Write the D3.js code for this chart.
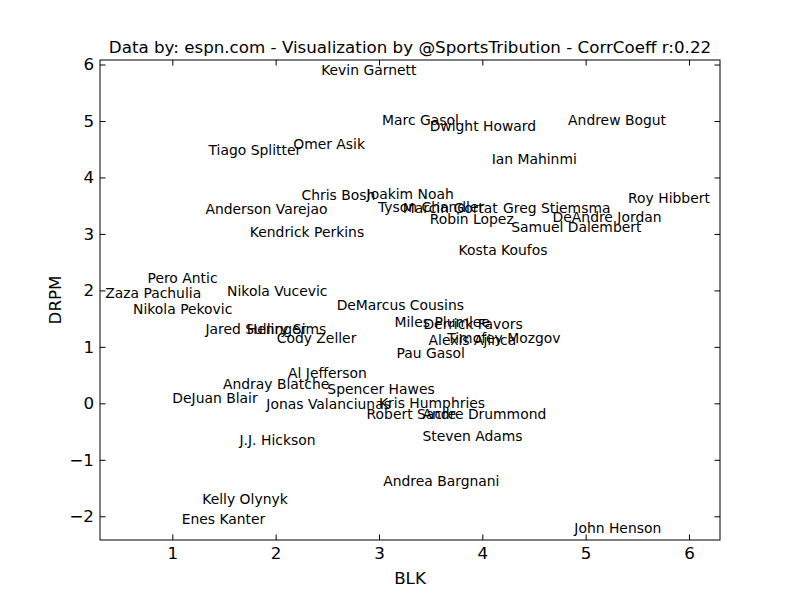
<!DOCTYPE html>
<html>
<head>
<meta charset="utf-8">
<script src="https://cdn.jsdelivr.net/npm/d3@7"></script>
<style>
  body { margin: 0; background: #fff; }
  text { font-family: "DejaVu Sans", sans-serif; }
</style>
</head>
<body>
<div id="plot"></div>
<script>
// Player names with their blocks (BLK) and defensive real plus-minus (DRPM)
var players = ["Kevin Garnett", "Marc Gasol", "Dwight Howard", "Andrew Bogut", "Ian Mahinmi",
  "Omer Asik", "Tiago Splitter", "Chris Bosh", "Joakim Noah", "Anderson Varejao",
  "Tyson Chandler", "Marcin Gortat", "Greg Stiemsma", "Robin Lopez", "DeAndre Jordan",
  "Samuel Dalembert", "Roy Hibbert", "Kendrick Perkins", "Kosta Koufos", "Pero Antic",
  "Zaza Pachulia", "Nikola Vucevic", "Nikola Pekovic", "DeMarcus Cousins", "Jared Sullinger",
  "Henry Sims", "Cody Zeller", "Miles Plumlee", "Derrick Favors", "Timofey Mozgov",
  "Alexis Ajinca", "Pau Gasol", "Al Jefferson", "Andray Blatche", "Spencer Hawes",
  "DeJuan Blair", "Jonas Valanciunas", "Kris Humphries", "Robert Sacre", "Andre Drummond",
  "Steven Adams", "J.J. Hickson", "Andrea Bargnani", "Kelly Olynyk", "Enes Kanter",
  "John Henson"];
var blk = [2.44, 3.03, 3.49, 4.83, 4.09,
  2.17, 1.35, 2.25, 2.88, 1.32,
  2.99, 3.23, 4.20, 3.49, 4.68,
  4.28, 5.41, 1.75, 3.77, 0.76,
  0.35, 1.53, 0.62, 2.59, 1.32,
  1.72, 2.01, 3.15, 3.43, 3.66,
  3.48, 3.17, 2.12, 1.49, 2.50,
  1.00, 1.91, 3.00, 2.88, 3.42,
  3.42, 1.65, 3.04, 1.29, 1.09,
  4.89];
var drpm = [5.81, 4.93, 4.82, 4.93, 4.24,
  4.50, 4.40, 3.60, 3.62, 3.35,
  3.39, 3.37, 3.37, 3.18, 3.21,
  3.03, 3.55, 2.95, 2.63, 2.13,
  1.87, 1.90, 1.58, 1.65, 1.23,
  1.23, 1.07, 1.35, 1.32, 1.07,
  1.03, 0.80, 0.45, 0.25, 0.17,
  0.01, -0.10, -0.08, -0.28, -0.28,
  -0.67, -0.74, -1.46, -1.78, -2.14,
  -2.30];
var xTicks = [1, 2, 3, 4, 5, 6];
var yTicks = [-2, -1, 0, 1, 2, 3, 4, 5, 6];
var title = "Data by: espn.com - Visualization by @SportsTribution - CorrCoeff r:0.22";

var data = players.map((p, i) => ({name: p, blk: blk[i], drpm: drpm[i]}));

// Same frame as a default matplotlib figure
var margin = {top: 60, right: 80, bottom: 60, left: 100},
    width = 800 - margin.left - margin.right,
    height = 600 - margin.top - margin.bottom;

var svg = d3.select("#plot")
  .append("svg")
    .attr("width", 800)
    .attr("height", 600)
  .append("g")
    .attr("transform", `translate(${margin.left},${margin.top})`);

var x = d3.scaleLinear().domain([0.3, 6.3]).range([0, width]);
var y = d3.scaleLinear().domain([-2.42, 6.08]).range([height, 0]);

var tickLen = 5.5;
function styleAxis(g, showLabels) {
  g.select(".domain").remove();
  g.selectAll(".tick line").attr("stroke", "#000");
  g.selectAll(".tick text")
    .attr("fill", "#000")
    .style("font-size", "16.7px")
    .style("font-family", "DejaVu Sans");
  if (!showLabels) g.selectAll(".tick text").remove();
}

svg.append("g")
  .attr("transform", `translate(0,${height})`)
  .call(d3.axisBottom(x).tickValues(xTicks).tickSize(-tickLen).tickPadding(7).tickFormat(d3.format("d")))
  .call(g => styleAxis(g, true));
svg.append("g")
  .call(d3.axisTop(x).tickValues(xTicks).tickSize(-tickLen))
  .call(g => styleAxis(g, false));
svg.append("g")
  .call(d3.axisLeft(y).tickValues(yTicks).tickSize(-tickLen).tickPadding(6).tickFormat(d3.format("d")))
  .call(g => styleAxis(g, true));
svg.append("g")
  .attr("transform", `translate(${width},0)`)
  .call(d3.axisRight(y).tickValues(yTicks).tickSize(-tickLen))
  .call(g => styleAxis(g, false));

// Frame
svg.append("rect")
  .attr("width", width)
  .attr("height", height)
  .attr("fill", "none")
  .attr("stroke", "#000")
  .attr("stroke-width", 1);

// Player names (left / baseline anchored, like plt.text)
svg.selectAll(".name")
  .data(data)
  .enter()
  .append("text")
    .attr("class", "name")
    .attr("x", d => x(d.blk))
    .attr("y", d => y(d.drpm))
    .style("font-size", "13.9px")
    .attr("fill", "#000")
    .text(d => d.name);

// Title
svg.append("text")
  .attr("x", width / 2)
  .attr("y", -7)
  .attr("text-anchor", "middle")
  .style("font-size", "16.7px")
  .text(title);

// Axis labels
svg.append("text")
  .attr("x", width / 2)
  .attr("y", height + 44)
  .attr("text-anchor", "middle")
  .style("font-size", "16.7px")
  .text("BLK");

svg.append("text")
  .attr("transform", `translate(${-39},${height / 2}) rotate(-90)`)
  .attr("text-anchor", "middle")
  .style("font-size", "16.7px")
  .text("DRPM");
</script>
</body>
</html>
